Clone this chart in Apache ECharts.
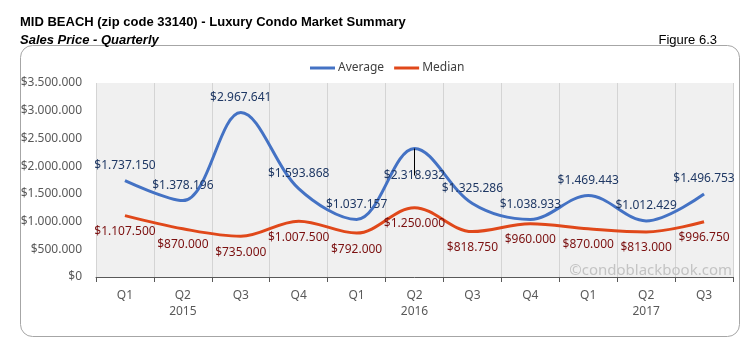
<!DOCTYPE html>
<html>
<head>
<meta charset="utf-8">
<script src="https://cdn.jsdelivr.net/npm/echarts@6/dist/echarts.min.js"></script>
<style>
html,body{margin:0;padding:0;background:#fff;}
#chart{width:744px;height:350px;}
</style>
</head>
<body>
<div id="chart"></div>
<script>
const quarters = ['Q1','Q2','Q3','Q4','Q1','Q2','Q3','Q4','Q1','Q2','Q3'];
const periodYears = [2015,2015,2015,2015,2016,2016,2016,2016,2017,2017,2017];
const average = [1737150, 1378196, 2967641, 1593868, 1037157, 2318932, 1325286, 1038933, 1469443, 1012429, 1496753];
const median = [1107500, 870000, 735000, 1007500, 792000, 1250000, 818750, 960000, 870000, 813000, 996750];
const yTickMax = 3500000;
const yTickStep = 500000;

function money(v){
  return '$' + String(Math.round(v)).replace(/\B(?=(\d{3})+(?!\d))/g, '.');
}
const categories = quarters.map((q,i)=> q + ' ' + periodYears[i]);

const avgData = average.map((v,i)=>{
  if (i === 5) {
    return {value: v, label: {position: 'bottom', distance: 21}, labelLine: {show: true, lineStyle: {color: '#000', width: 1}}};
  }
  return v;
});

const chart = echarts.init(document.getElementById('chart'), null, {renderer: 'canvas'});
const font = '"Noto Sans", "Open Sans", sans-serif';
const titleFont = '"Liberation Sans Narrow", "Liberation Sans", Arial, sans-serif';
chart.setOption({
  animation: false,
  backgroundColor: '#fff',
  title: [
    {text: 'MID BEACH (zip code 33140) - Luxury Condo Market Summary', left: 15, top: 11,
     textStyle: {fontFamily: titleFont, fontWeight: 'bold', fontSize: 13, color: '#000'}},
    {text: 'Sales Price - Quarterly', left: 15, top: 29,
     textStyle: {fontFamily: titleFont, fontWeight: 'bold', fontStyle: 'italic', fontSize: 13, color: '#000'}},
    {text: 'Figure 6.3', right: 22, top: 29,
     textStyle: {fontFamily: titleFont, fontWeight: 'normal', fontSize: 13, color: '#000'}}
  ],
  graphic: [
    {type: 'rect', shape: {x: 20.5, y: 45.5, width: 719, height: 291, r: 12}, style: {fill: 'none', stroke: '#a6a6a6', lineWidth: 1}, z: 0},
    {type: 'text', right: 12, top: 263, style: {text: '©condoblackbook.com', font: '15px "Noto Sans", sans-serif', fill: '#c3c3c3'}, z: 10}
  ],
  legend: {
    left: 305, top: 57,
    itemWidth: 25, itemHeight: 3, itemGap: 10,
    icon: 'rect',
    textStyle: {fontFamily: font, fontSize: 12, color: '#404040', padding: [0,0,0,-2]},
    data: ['Average', 'Median']
  },
  grid: {left: 96, right: 11, top: 83, bottom: 73, show: true, backgroundColor: '#f0f0f0', borderWidth: 0},
  xAxis: {
    type: 'category',
    data: categories,
    boundaryGap: true,
    axisLine: {show: true, lineStyle: {color: '#595959', width: 1}},
    axisTick: {show: true, length: 5, lineStyle: {color: '#595959'}},
    splitLine: {show: true, lineStyle: {color: '#d4d4d4', width: 1}},
    axisLabel: {
      fontFamily: font, fontSize: 12, color: '#595959', margin: 11, lineHeight: 16,
      formatter: function(val, idx){
        const q = quarters[idx];
        return q === 'Q2' ? q + '\n' + periodYears[idx] : q;
      }
    }
  },
  yAxis: {
    type: 'value', min: 0, max: yTickMax, interval: yTickStep,
    axisLine: {show: false}, axisTick: {show: false},
    splitLine: {show: false},
    axisLabel: {fontFamily: font, fontSize: 12, color: '#595959', margin: 14, formatter: money}
  },
  series: [
    {
      name: 'Average', type: 'line', smooth: 0.35, data: avgData,
      symbol: 'circle', symbolSize: 0.1, showSymbol: true,
      lineStyle: {color: '#4472c4', width: 3},
      itemStyle: {color: '#4472c4'},
      label: {show: true, position: 'top', distance: 9, fontFamily: font, fontSize: 12, color: '#1f3864', formatter: p => money(p.value)},
      z: 3
    },
    {
      name: 'Median', type: 'line', smooth: 0.35, data: median,
      symbol: 'circle', symbolSize: 0.1, showSymbol: true,
      lineStyle: {color: '#e0481a', width: 3},
      itemStyle: {color: '#e0481a'},
      label: {show: true, position: 'bottom', distance: 10, fontFamily: font, fontSize: 12, color: '#7b1010', formatter: p => money(p.value)},
      z: 2
    }
  ]
});
</script>
</body>
</html>
